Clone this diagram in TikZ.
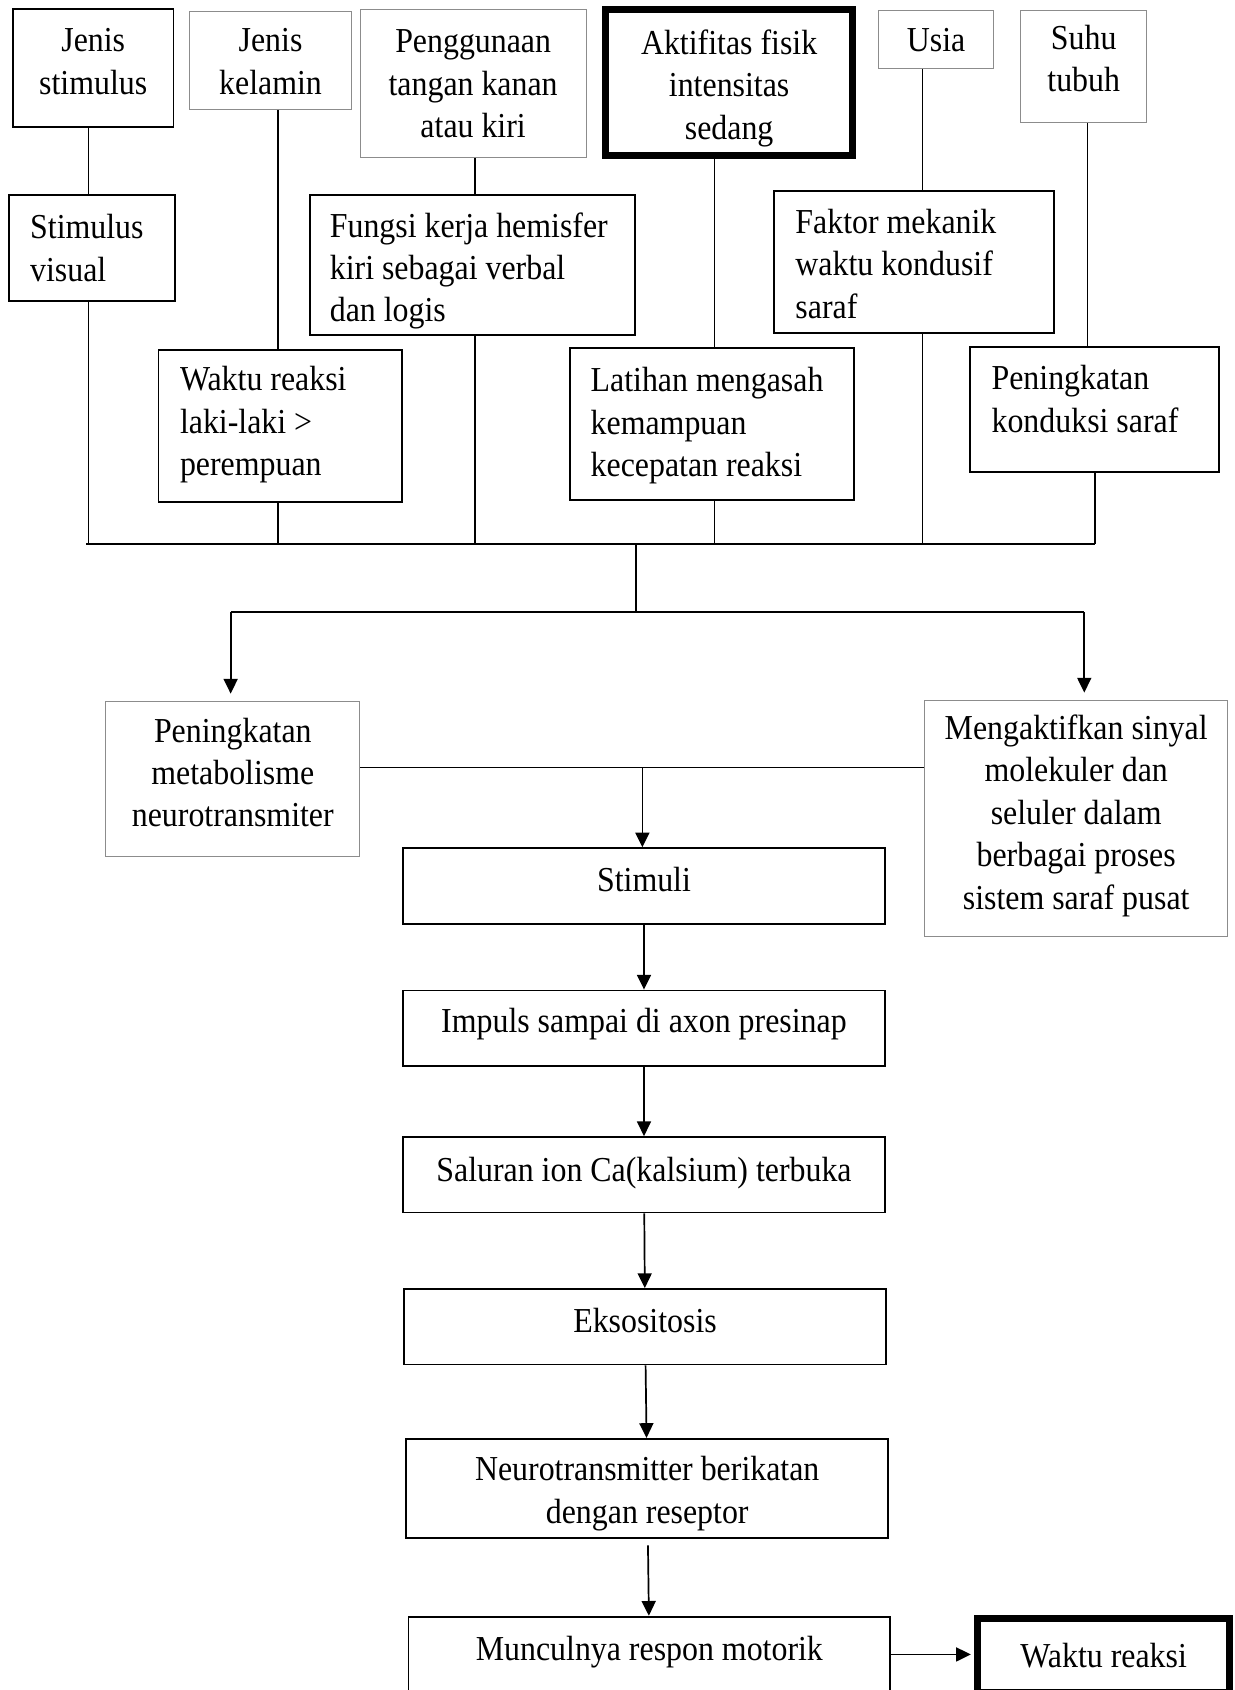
\documentclass[tikz,border=0pt]{standalone}
\usepackage{fontspec}
\setmainfont{Liberation Serif}[FakeStretch=0.91]
\usetikzlibrary{arrows.meta}

\begin{document}
\begin{tikzpicture}[x=0.02cm, y=-0.02cm, >={Triangle[length=7.8pt, width=7.4pt]},
        every node/.style={font=\fontsize{18.5}{22.4}\selectfont, inner sep=0pt, align=flush center},
        blk/.style={draw, line width=1pt},
        gry/.style={draw=black!45, line width=0.5pt},
        thk/.style={draw, line width=3.7pt},
        lft/.style={align=flush left},
        line/.style={line width=0.9pt}]
            \useasboundingbox (0,0) rectangle (1145,1568);

            \node[blk, text width=2.98cm, text height=0.8cm, text depth=1.4cm] (jstim) at (86.5,63) {Jenis\\stimulus};
            \node[gry, text width=3cm, text height=0.74cm, text depth=1.08cm] (jkel) at (251,56.5) {Jenis\\kelamin};
            \node[gry, text width=4.2cm, text height=0.8cm, text depth=1.94cm] (peng) at (439,77.5) {Penggunaan\\tangan kanan\\atau kiri};
            \node[thk, text width=4.58cm, text height=0.83cm, text depth=1.87cm] (akt) at (676.5,76.5) {Aktifitas fisik\\intensitas\\sedang};
            \node[gry, minimum width=2.14cm, text height=0.755cm, text depth=0.325cm] (usia) at (868.5,37) {Usia};
            \node[gry, text width=2.34cm, text height=0.72cm, text depth=1.36cm] (suhu) at (1005.5,62) {Suhu\\tubuh};

            \node[blk, lft, text width=2.28cm, minimum width=3.08cm, text height=0.81cm, text depth=1.15cm] (svis) at (85,230) {Stimulus\\visual};
            \node[blk, lft, text width=5.3cm, minimum width=6.02cm, text height=0.78cm, text depth=1.82cm] (fungsi) at (438.5,246) {Fungsi kerja hemisfer\\kiri sebagai verbal\\dan logis};
            \node[blk, lft, text width=4.4cm, minimum width=5.2cm, text height=0.79cm, text depth=1.85cm] (faktor) at (848,243) {Faktor mekanik\\waktu kondusif\\saraf};

            \node[blk, lft, text width=3.72cm, minimum width=4.52cm, text height=0.75cm, text depth=2.07cm] (wlaki) at (260,395.5) {Waktu reaksi\\laki-laki >\\perempuan};
            \node[blk, lft, text width=4.5cm, minimum width=5.26cm, text height=0.81cm, text depth=2.01cm] (latihan) at (660.5,393.5) {Latihan mengasah\\kemampuan\\kecepatan reaksi};
            \node[blk, lft, text width=3.82cm, minimum width=4.62cm, text height=0.79cm, text depth=1.53cm] (konduksi) at (1015.5,380) {Peningkatan\\konduksi saraf};

            \coordinate (busL) at (80,505);
            \coordinate (c1) at (82,505);
            \coordinate (c2) at (258,505);
            \coordinate (c3) at (441,505);
            \coordinate (c4) at (663,505);
            \coordinate (c5) at (856,505);
            \coordinate (c6) at (1016,505);
            \coordinate (c6t) at (1009,505);

            \draw[line] (jstim.south -| c1) -- (svis.north -| c1);
            \draw[line] (jkel.south -| c2) -- (wlaki.north -| c2);
            \draw[line] (peng.south -| c3) -- (fungsi.north -| c3);
            \draw[line] (akt.south -| c4) -- (latihan.north -| c4);
            \draw[line] (usia.south -| c5) -- (faktor.north -| c5);
            \draw[line] (suhu.south -| c6t) -- (konduksi.north -| c6t);

            \draw[line] (svis.south -| c1) -- (c1);
            \draw[line] (wlaki.south -| c2) -- (c2);
            \draw[line] (fungsi.south -| c3) -- (c3);
            \draw[line] (latihan.south -| c4) -- (c4);
            \draw[line] (faktor.south -| c5) -- (c5);
            \draw[line] (konduksi.south -| c6) -- (c6);
            \draw[line width=1.2pt] (busL) -- (c6);

            \node[gry, text width=4.72cm, text height=0.75cm, text depth=2.13cm] (metab) at (216,723) {Peningkatan\\metabolisme\\neurotransmiter};
            \node[gry, text width=5.62cm, text height=0.72cm, text depth=3.66cm] (sinyal) at (998.5,759.5) {Mengaktifkan sinyal\\molekuler dan\\seluler dalam\\berbagai proses\\sistem saraf pusat};

            \coordinate (mid) at (590,505);
            \coordinate (split) at (590,568);
            \coordinate (splitL) at (214,568);
            \coordinate (splitR) at (1006,568);
            \draw[line] (mid) -- (split);
            \draw[line] (splitL) -- (splitR);
            \draw[line, ->, shorten >=0.14cm] (splitL) -- (splitL |- metab.north);
            \draw[line, ->, shorten >=0.14cm] (splitR) -- (splitR |- sinyal.north);

            \node[blk, minimum width=8.94cm, text height=0.8cm, text depth=0.6cm] (stim) at (597.5,822) {Stimuli};
            \node[blk, minimum width=8.94cm, text height=0.77cm, text depth=0.63cm] (imp) at (597.5,954) {Impuls sampai di axon presinap};
            \node[blk, minimum width=8.94cm, text height=0.83cm, text depth=0.57cm] (sal) at (597.5,1090) {Saluran ion Ca(kalsium) terbuka};
            \node[blk, minimum width=8.94cm, text height=0.8cm, text depth=0.6cm] (eks) at (598.5,1231) {Eksositosis};
            \node[blk, text width=8.94cm, text height=0.78cm, text depth=1.06cm] (neuro) at (600.5,1381) {Neurotransmitter berikatan\\dengan reseptor};
            \node[blk, minimum width=8.94cm, text height=0.81cm, text depth=0.59cm] (munc) at (602.5,1535) {Munculnya respon motorik};
            \node[thk, minimum width=4.68cm, text height=0.9cm, text depth=0.46cm] (wreak) at (1024,1536) {Waktu reaksi};

            \coordinate (join) at (596,712);
            \draw[line] (metab.east |- join) -- (sinyal.west |- join);
            \draw[line, ->] (join) -- (join |- stim.north);

            \draw[line, ->] (stim) -- (imp);
            \draw[line, ->] (imp) -- (sal);
            \draw[line, ->] (sal) -- (eks);
            \draw[line, ->] (eks) -- (neuro);
            \draw[line, ->, shorten <=0.12cm] (neuro) -- (munc);
            \draw[line, ->, shorten >=0.06cm] (munc.east) -- (munc.east -| wreak.west);
        \end{tikzpicture}
\end{document}
